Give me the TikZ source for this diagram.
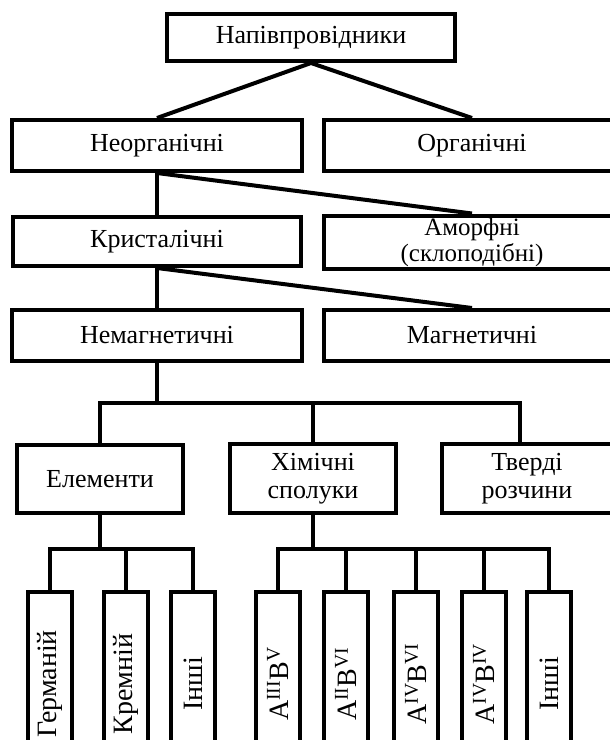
\documentclass[tikz,border=0pt]{standalone}
\usepackage{fontspec}
\setmainfont{Liberation Serif}
\begin{document}
\begin{tikzpicture}[x=1pt,y=-1pt,
  box/.style={draw, line width=4pt, inner sep=0pt, align=center,
    font=\fontsize{26}{28}\selectfont},
  vbox/.style={draw, line width=4pt, inner sep=0pt, rotate=90,
    minimum width=184pt, minimum height=44pt,
    font=\fontsize{28}{30}\selectfont},
  conn/.style={line width=4pt}]
\clip (0,0) rectangle (610,740);
\fill[white] (0,0) rectangle (610,740);
% level nodes
\node[box, minimum width=288pt, minimum height=47pt] (top) at (311,37.5) {Напівпровідники};
\node[box, minimum width=290pt, minimum height=51pt] (neo) at (157,145.5) {Неорганічні};
\node[box, minimum width=296pt, minimum height=51pt] (org) at (472,145.5) {Органічні};
\node[box, minimum width=288pt, minimum height=49pt] (kry) at (157,241.5) {Кристалічні};
\node[box, minimum width=296pt, minimum height=53pt, font=\fontsize{25}{26}\selectfont] (amo) at (472,242) {Аморфні\\(склоподібні)};
\node[box, minimum width=290pt, minimum height=51pt] (nem) at (157,335.5) {Немагнетичні};
\node[box, minimum width=296pt, minimum height=51pt] (mag) at (472,335.5) {Магнетичні};
\node[box, minimum width=166pt, minimum height=68pt] (elem) at (100,479) {Елементи};
\node[box, minimum width=166pt, minimum height=69pt] (chem) at (313,478.5) {Хімічні\\сполуки};
\node[box, minimum width=170pt, minimum height=69pt] (sol) at (527,478.5) {Тверді\\розчини};
% vertical boxes
\node[vbox] (ge) at (50,684) {Германій};
\node[vbox] (si) at (126,684) {Кремній};
\node[vbox] (oth1) at (193,684) {Інші};
\node[vbox] (a3b5) at (278,684) {A\textsuperscript{III}B\textsuperscript{V}};
\node[vbox] (a2b6) at (346,684) {A\textsuperscript{II}B\textsuperscript{VI}};
\node[vbox] (a4b6) at (416,684) {A\textsuperscript{IV}B\textsuperscript{VI}};
\node[vbox] (a4b4) at (484,684) {A\textsuperscript{IV}B\textsuperscript{IV}};
\node[vbox] (oth2) at (549,684) {Інші};
% connectors
\draw[conn] (neo.north) -- (top.south) -- (org.north);
\draw[conn] (neo.south) -- (kry.north);
\draw[conn] (neo.south) -- (amo.north);
\draw[conn] (kry.south) -- (nem.north);
\draw[conn] (kry.south) -- (mag.north);
\coordinate (busN) at (0,403);
\coordinate (solin) at ([xshift=-7pt]sol.north);
\draw[conn] (nem.south) -- (nem.south |- busN);
\draw[conn] (elem.north) |- (solin |- busN) -- (solin);
\draw[conn] (chem.north) -- (chem.north |- busN);
\coordinate (busA) at (0,549);
\draw[conn] (elem.south) -- (elem.south |- busA);
\draw[conn] (ge.east) |- (oth1.east |- busA) -- (oth1.east);
\draw[conn] (si.east) -- (si.east |- busA);
\draw[conn] (chem.south) -- (chem.south |- busA);
\draw[conn] (a3b5.east) |- (oth2.east |- busA) -- (oth2.east);
\draw[conn] (a2b6.east) -- (a2b6.east |- busA);
\draw[conn] (a4b6.east) -- (a4b6.east |- busA);
\draw[conn] (a4b4.east) -- (a4b4.east |- busA);
\end{tikzpicture}
\end{document}
